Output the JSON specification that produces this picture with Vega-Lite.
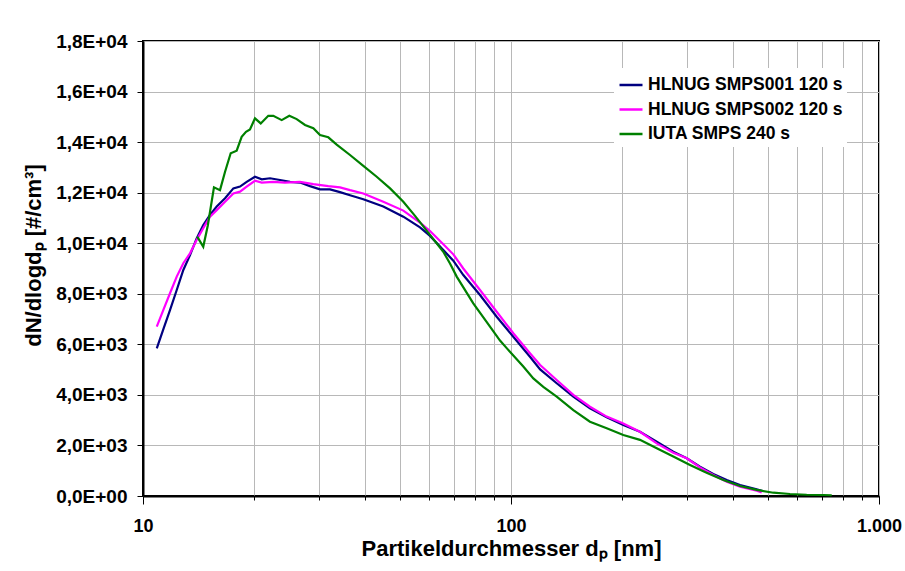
{
  "$schema": "https://vega.github.io/schema/vega-lite/v6.json",
  "width": 736,
  "height": 455,
  "autosize": {"type": "none"},
  "padding": {"left": 143, "top": 41, "right": 26, "bottom": 75},
  "background": "white",
  "config": {
    "view": {"stroke": "black", "strokeWidth": 2},
    "font": "Liberation Sans"
  },
  "data": {
    "values": [
      {"s": "HLNUG SMPS001 120 s", "d": 10.9, "v": 5840},
      {"s": "HLNUG SMPS001 120 s", "d": 11.36, "v": 6600},
      {"s": "HLNUG SMPS001 120 s", "d": 11.84, "v": 7350},
      {"s": "HLNUG SMPS001 120 s", "d": 12.35, "v": 8150},
      {"s": "HLNUG SMPS001 120 s", "d": 12.87, "v": 8940},
      {"s": "HLNUG SMPS001 120 s", "d": 13.42, "v": 9530},
      {"s": "HLNUG SMPS001 120 s", "d": 13.99, "v": 10190},
      {"s": "HLNUG SMPS001 120 s", "d": 14.58, "v": 10720},
      {"s": "HLNUG SMPS001 120 s", "d": 15.21, "v": 11120},
      {"s": "HLNUG SMPS001 120 s", "d": 15.86, "v": 11450},
      {"s": "HLNUG SMPS001 120 s", "d": 16.71, "v": 11780},
      {"s": "HLNUG SMPS001 120 s", "d": 17.6, "v": 12170},
      {"s": "HLNUG SMPS001 120 s", "d": 18.35, "v": 12240},
      {"s": "HLNUG SMPS001 120 s", "d": 19.13, "v": 12430},
      {"s": "HLNUG SMPS001 120 s", "d": 20.15, "v": 12630},
      {"s": "HLNUG SMPS001 120 s", "d": 21.02, "v": 12530},
      {"s": "HLNUG SMPS001 120 s", "d": 22.14, "v": 12570},
      {"s": "HLNUG SMPS001 120 s", "d": 23.57, "v": 12500},
      {"s": "HLNUG SMPS001 120 s", "d": 25.09, "v": 12430},
      {"s": "HLNUG SMPS001 120 s", "d": 26.71, "v": 12400},
      {"s": "HLNUG SMPS001 120 s", "d": 28.43, "v": 12260},
      {"s": "HLNUG SMPS001 120 s", "d": 30.27, "v": 12130},
      {"s": "HLNUG SMPS001 120 s", "d": 32.22, "v": 12130},
      {"s": "HLNUG SMPS001 120 s", "d": 34.3, "v": 12020},
      {"s": "HLNUG SMPS001 120 s", "d": 36.52, "v": 11900},
      {"s": "HLNUG SMPS001 120 s", "d": 39.69, "v": 11740},
      {"s": "HLNUG SMPS001 120 s", "d": 44.98, "v": 11450},
      {"s": "HLNUG SMPS001 120 s", "d": 50.98, "v": 11050},
      {"s": "HLNUG SMPS001 120 s", "d": 56.59, "v": 10630},
      {"s": "HLNUG SMPS001 120 s", "d": 60.25, "v": 10290},
      {"s": "HLNUG SMPS001 120 s", "d": 65.47, "v": 9730},
      {"s": "HLNUG SMPS001 120 s", "d": 69.7, "v": 9310},
      {"s": "HLNUG SMPS001 120 s", "d": 74.2, "v": 8740},
      {"s": "HLNUG SMPS001 120 s", "d": 82.37, "v": 7950},
      {"s": "HLNUG SMPS001 120 s", "d": 91.44, "v": 7090},
      {"s": "HLNUG SMPS001 120 s", "d": 101.45, "v": 6300},
      {"s": "HLNUG SMPS001 120 s", "d": 112.6, "v": 5510},
      {"s": "HLNUG SMPS001 120 s", "d": 120, "v": 5010},
      {"s": "HLNUG SMPS001 120 s", "d": 133.1, "v": 4460},
      {"s": "HLNUG SMPS001 120 s", "d": 147.7, "v": 3930},
      {"s": "HLNUG SMPS001 120 s", "d": 163.9, "v": 3470},
      {"s": "HLNUG SMPS001 120 s", "d": 182, "v": 3110},
      {"s": "HLNUG SMPS001 120 s", "d": 201.9, "v": 2810},
      {"s": "HLNUG SMPS001 120 s", "d": 224.1, "v": 2540},
      {"s": "HLNUG SMPS001 120 s", "d": 248.9, "v": 2150},
      {"s": "HLNUG SMPS001 120 s", "d": 276.1, "v": 1750},
      {"s": "HLNUG SMPS001 120 s", "d": 300.3, "v": 1490},
      {"s": "HLNUG SMPS001 120 s", "d": 326.3, "v": 1160},
      {"s": "HLNUG SMPS001 120 s", "d": 354.5, "v": 870},
      {"s": "HLNUG SMPS001 120 s", "d": 385.7, "v": 630},
      {"s": "HLNUG SMPS001 120 s", "d": 419.1, "v": 435},
      {"s": "HLNUG SMPS001 120 s", "d": 465.2, "v": 265},
      {"s": "HLNUG SMPS001 120 s", "d": 485, "v": 190},
      {"s": "HLNUG SMPS002 120 s", "d": 10.9, "v": 6700},
      {"s": "HLNUG SMPS002 120 s", "d": 11.36, "v": 7360},
      {"s": "HLNUG SMPS002 120 s", "d": 11.84, "v": 8020},
      {"s": "HLNUG SMPS002 120 s", "d": 12.35, "v": 8680},
      {"s": "HLNUG SMPS002 120 s", "d": 12.87, "v": 9210},
      {"s": "HLNUG SMPS002 120 s", "d": 13.42, "v": 9600},
      {"s": "HLNUG SMPS002 120 s", "d": 13.99, "v": 10130},
      {"s": "HLNUG SMPS002 120 s", "d": 14.58, "v": 10590},
      {"s": "HLNUG SMPS002 120 s", "d": 15.21, "v": 11050},
      {"s": "HLNUG SMPS002 120 s", "d": 15.86, "v": 11310},
      {"s": "HLNUG SMPS002 120 s", "d": 16.71, "v": 11640},
      {"s": "HLNUG SMPS002 120 s", "d": 17.6, "v": 11970},
      {"s": "HLNUG SMPS002 120 s", "d": 18.35, "v": 12040},
      {"s": "HLNUG SMPS002 120 s", "d": 19.13, "v": 12240},
      {"s": "HLNUG SMPS002 120 s", "d": 20.15, "v": 12470},
      {"s": "HLNUG SMPS002 120 s", "d": 21.02, "v": 12400},
      {"s": "HLNUG SMPS002 120 s", "d": 22.6, "v": 12430},
      {"s": "HLNUG SMPS002 120 s", "d": 24.3, "v": 12400},
      {"s": "HLNUG SMPS002 120 s", "d": 26.71, "v": 12430},
      {"s": "HLNUG SMPS002 120 s", "d": 29.03, "v": 12340},
      {"s": "HLNUG SMPS002 120 s", "d": 31.88, "v": 12260},
      {"s": "HLNUG SMPS002 120 s", "d": 34.3, "v": 12210},
      {"s": "HLNUG SMPS002 120 s", "d": 36.52, "v": 12100},
      {"s": "HLNUG SMPS002 120 s", "d": 39.69, "v": 11970},
      {"s": "HLNUG SMPS002 120 s", "d": 44.98, "v": 11640},
      {"s": "HLNUG SMPS002 120 s", "d": 50.98, "v": 11290},
      {"s": "HLNUG SMPS002 120 s", "d": 56.59, "v": 10820},
      {"s": "HLNUG SMPS002 120 s", "d": 60.25, "v": 10480},
      {"s": "HLNUG SMPS002 120 s", "d": 65.47, "v": 9960},
      {"s": "HLNUG SMPS002 120 s", "d": 69.7, "v": 9560},
      {"s": "HLNUG SMPS002 120 s", "d": 74.2, "v": 9000},
      {"s": "HLNUG SMPS002 120 s", "d": 82.37, "v": 8150},
      {"s": "HLNUG SMPS002 120 s", "d": 91.44, "v": 7290},
      {"s": "HLNUG SMPS002 120 s", "d": 101.45, "v": 6440},
      {"s": "HLNUG SMPS002 120 s", "d": 112.6, "v": 5650},
      {"s": "HLNUG SMPS002 120 s", "d": 120, "v": 5180},
      {"s": "HLNUG SMPS002 120 s", "d": 133.1, "v": 4590},
      {"s": "HLNUG SMPS002 120 s", "d": 147.7, "v": 4000},
      {"s": "HLNUG SMPS002 120 s", "d": 163.9, "v": 3530},
      {"s": "HLNUG SMPS002 120 s", "d": 182, "v": 3140},
      {"s": "HLNUG SMPS002 120 s", "d": 201.9, "v": 2870},
      {"s": "HLNUG SMPS002 120 s", "d": 224.1, "v": 2540},
      {"s": "HLNUG SMPS002 120 s", "d": 248.9, "v": 2080},
      {"s": "HLNUG SMPS002 120 s", "d": 276.1, "v": 1710},
      {"s": "HLNUG SMPS002 120 s", "d": 300.3, "v": 1490},
      {"s": "HLNUG SMPS002 120 s", "d": 326.3, "v": 1130},
      {"s": "HLNUG SMPS002 120 s", "d": 354.5, "v": 830},
      {"s": "HLNUG SMPS002 120 s", "d": 385.7, "v": 565},
      {"s": "HLNUG SMPS002 120 s", "d": 419.1, "v": 370},
      {"s": "HLNUG SMPS002 120 s", "d": 465.2, "v": 210},
      {"s": "HLNUG SMPS002 120 s", "d": 480, "v": 145},
      {"s": "IUTA SMPS 240 s", "d": 14.04, "v": 10260},
      {"s": "IUTA SMPS 240 s", "d": 14.58, "v": 9860},
      {"s": "IUTA SMPS 240 s", "d": 15.0, "v": 10700},
      {"s": "IUTA SMPS 240 s", "d": 15.59, "v": 12210},
      {"s": "IUTA SMPS 240 s", "d": 16.19, "v": 12100},
      {"s": "IUTA SMPS 240 s", "d": 16.71, "v": 12830},
      {"s": "IUTA SMPS 240 s", "d": 17.31, "v": 13560},
      {"s": "IUTA SMPS 240 s", "d": 17.97, "v": 13660},
      {"s": "IUTA SMPS 240 s", "d": 18.54, "v": 14210},
      {"s": "IUTA SMPS 240 s", "d": 19.05, "v": 14410},
      {"s": "IUTA SMPS 240 s", "d": 19.53, "v": 14500},
      {"s": "IUTA SMPS 240 s", "d": 20.15, "v": 14940},
      {"s": "IUTA SMPS 240 s", "d": 20.89, "v": 14740},
      {"s": "IUTA SMPS 240 s", "d": 21.9, "v": 15040},
      {"s": "IUTA SMPS 240 s", "d": 22.6, "v": 15040},
      {"s": "IUTA SMPS 240 s", "d": 23.82, "v": 14870},
      {"s": "IUTA SMPS 240 s", "d": 24.98, "v": 15040},
      {"s": "IUTA SMPS 240 s", "d": 26.16, "v": 14910},
      {"s": "IUTA SMPS 240 s", "d": 27.56, "v": 14680},
      {"s": "IUTA SMPS 240 s", "d": 29.03, "v": 14550},
      {"s": "IUTA SMPS 240 s", "d": 30.27, "v": 14280},
      {"s": "IUTA SMPS 240 s", "d": 31.88, "v": 14190},
      {"s": "IUTA SMPS 240 s", "d": 33.6, "v": 13900},
      {"s": "IUTA SMPS 240 s", "d": 36.52, "v": 13490},
      {"s": "IUTA SMPS 240 s", "d": 39.69, "v": 13060},
      {"s": "IUTA SMPS 240 s", "d": 43.16, "v": 12630},
      {"s": "IUTA SMPS 240 s", "d": 46.92, "v": 12170},
      {"s": "IUTA SMPS 240 s", "d": 50.98, "v": 11640},
      {"s": "IUTA SMPS 240 s", "d": 54.85, "v": 11080},
      {"s": "IUTA SMPS 240 s", "d": 60.25, "v": 10330},
      {"s": "IUTA SMPS 240 s", "d": 65.47, "v": 9660},
      {"s": "IUTA SMPS 240 s", "d": 68.27, "v": 9200},
      {"s": "IUTA SMPS 240 s", "d": 71.2, "v": 8680},
      {"s": "IUTA SMPS 240 s", "d": 78.98, "v": 7620},
      {"s": "IUTA SMPS 240 s", "d": 87.69, "v": 6700},
      {"s": "IUTA SMPS 240 s", "d": 93.35, "v": 6150},
      {"s": "IUTA SMPS 240 s", "d": 97.34, "v": 5850},
      {"s": "IUTA SMPS 240 s", "d": 108, "v": 5120},
      {"s": "IUTA SMPS 240 s", "d": 115, "v": 4650},
      {"s": "IUTA SMPS 240 s", "d": 122.4, "v": 4320},
      {"s": "IUTA SMPS 240 s", "d": 133.1, "v": 3930},
      {"s": "IUTA SMPS 240 s", "d": 147.7, "v": 3400},
      {"s": "IUTA SMPS 240 s", "d": 163.9, "v": 2940},
      {"s": "IUTA SMPS 240 s", "d": 182, "v": 2680},
      {"s": "IUTA SMPS 240 s", "d": 201.9, "v": 2410},
      {"s": "IUTA SMPS 240 s", "d": 224.1, "v": 2220},
      {"s": "IUTA SMPS 240 s", "d": 248.9, "v": 1890},
      {"s": "IUTA SMPS 240 s", "d": 276.1, "v": 1560},
      {"s": "IUTA SMPS 240 s", "d": 306.5, "v": 1230},
      {"s": "IUTA SMPS 240 s", "d": 340, "v": 920},
      {"s": "IUTA SMPS 240 s", "d": 377.6, "v": 630},
      {"s": "IUTA SMPS 240 s", "d": 419.1, "v": 395},
      {"s": "IUTA SMPS 240 s", "d": 465.2, "v": 240},
      {"s": "IUTA SMPS 240 s", "d": 516.2, "v": 130},
      {"s": "IUTA SMPS 240 s", "d": 573, "v": 80},
      {"s": "IUTA SMPS 240 s", "d": 636, "v": 50},
      {"s": "IUTA SMPS 240 s", "d": 706, "v": 40},
      {"s": "IUTA SMPS 240 s", "d": 744, "v": 30}
    ]
  },
  "mark": {"type": "line", "strokeWidth": 2.2, "interpolate": "linear"},
  "encoding": {
    "x": {
      "field": "d",
      "type": "quantitative",
      "scale": {"type": "log", "domain": [10, 1000], "nice": false},
      "axis": {
        "values": [10, 20, 30, 40, 50, 60, 70, 80, 90, 100, 200, 300, 400, 500, 600, 700, 800, 900, 1000],
        "labelExpr": "datum.value == 1000 ? '1.000' : (datum.value == 10 || datum.value == 100) ? format(datum.value, 'd') : ''",
        "grid": true,
        "gridColor": "#b8b8b8",
        "gridWidth": 1,
        "domainColor": "black",
        "domainWidth": 2,
        "tickColor": "black",
        "tickWidth": 1,
        "tickSize": {"condition": {"test": "datum.value == 10 || datum.value == 100 || datum.value == 1000", "value": 8}, "value": 4},
        "labelFont": "Liberation Sans",
        "labelFontWeight": "bold",
        "labelFontSize": 18,
        "labelColor": "black",
        "labelPadding": 13,
        "labelFlush": false,
        "labelOverlap": false,
        "title": "Partikeldurchmesser dₚ [nm]",
        "titleFont": "Liberation Sans",
        "titleFontWeight": "bold",
        "titleFontSize": 22,
        "titleColor": "black",
        "titlePadding": 3
      }
    },
    "y": {
      "field": "v",
      "type": "quantitative",
      "scale": {"domain": [0, 18000], "nice": false},
      "axis": {
        "values": [0, 2000, 4000, 6000, 8000, 10000, 12000, 14000, 16000, 18000],
        "labelExpr": "datum.value == 0 ? '0,0E+00' : replace(format(datum.value / pow(10, floor(log(datum.value) / LN10 + 1e-9)), '.1f'), '.', ',') + 'E+0' + floor(log(datum.value) / LN10 + 1e-9)",
        "grid": true,
        "gridColor": "#b8b8b8",
        "gridWidth": 1,
        "domainColor": "black",
        "domainWidth": 2,
        "tickColor": "black",
        "tickWidth": 1,
        "tickSize": 6,
        "labelFont": "Liberation Sans",
        "labelFontWeight": "bold",
        "labelFontSize": 19,
        "labelColor": "black",
        "labelPadding": 10,
        "labelFlush": false,
        "title": "dN/dlogdₚ [#/cm³]",
        "titleFont": "Liberation Sans",
        "titleFontWeight": "bold",
        "titleFontSize": 22,
        "titleColor": "black",
        "titlePadding": 10,
        "titleY": 214
      }
    },
    "color": {
      "field": "s",
      "type": "nominal",
      "scale": {
        "domain": ["HLNUG SMPS001 120 s", "HLNUG SMPS002 120 s", "IUTA SMPS 240 s"],
        "range": ["#000080", "#FF00FF", "#008000"]
      },
      "legend": {
        "title": null,
        "orient": "none",
        "legendX": 471,
        "legendY": 27,
        "fillColor": "white",
        "padding": 4,
        "rowPadding": 2.5,
        "symbolType": "stroke",
        "symbolSize": 529,
        "symbolStrokeWidth": 2.5,
        "labelFont": "Liberation Sans",
        "labelFontWeight": "bold",
        "labelFontSize": 17.5,
        "labelColor": "black",
        "labelOffset": 4,
        "labelLimit": 300
      }
    }
  }
}
